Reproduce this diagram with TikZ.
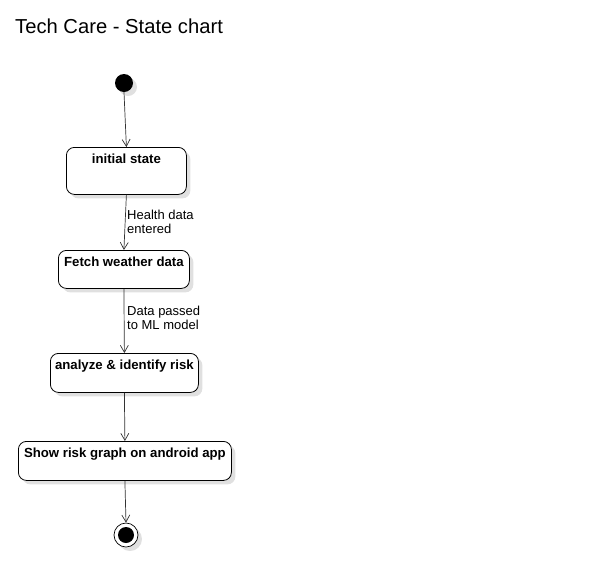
\documentclass[tikz,border=0pt]{standalone}
\usepackage{fontspec}
\setmainfont{Liberation Sans}
\usetikzlibrary{shadows,arrows.meta}
\begin{document}
\begin{tikzpicture}[x=1pt,y=-1pt,
  shd/.style={drop shadow={opacity=0.12,fill=black,shadow xshift=4pt,shadow yshift=-4pt}},
  state/.style={draw=black,fill=white,rounded corners=8pt,line width=0.8pt,shd},
  stxt/.style={font=\bfseries\fontsize{13.2}{15}\selectfont,anchor=north,inner sep=0pt},
  lbl/.style={font=\fontsize{13}{13.5}\selectfont,align=left,anchor=north west,inner sep=0pt},
  tr/.style={draw=black!80,line width=0.7pt,-{Straight Barb[length=7pt,width=8pt]}}]
\useasboundingbox (0,0) rectangle (609,587);
\node[anchor=west,inner sep=0pt,font=\fontsize{20.2}{24}\selectfont] (title) at (15,26) {Tech Care - State chart};
% initial
\node[circle,fill=black,minimum size=18pt,inner sep=0pt,shd] (init) at (124,83) {};
% states
\node[state,minimum width=120pt,minimum height=47pt,anchor=north west] (s1) at (66,147) {};
\node[stxt] at ([yshift=-6.5pt]s1.north) {initial state};
\node[state,minimum width=131pt,minimum height=38pt,anchor=north west] (s2) at (58,250) {};
\node[stxt] at ([yshift=-6.5pt]s2.north) {Fetch weather data};
\node[state,minimum width=148pt,minimum height=39pt,anchor=north west] (s3) at (50,353) {};
\node[stxt] at ([yshift=-6.5pt]s3.north) {analyze \& identify risk};
\node[state,minimum width=213pt,minimum height=39pt,anchor=north west] (s4) at (18,441) {};
\node[stxt] at ([yshift=-6.5pt]s4.north) {Show risk graph on android app};
% final
\node[circle,draw=black,fill=white,line width=0.7pt,minimum size=24pt,inner sep=0pt,shd] (fin) at (126,535) {};
\node[circle,fill=black,minimum size=16pt,inner sep=0pt] (finin) at (126,535) {};
% transitions
\draw[tr] (init.south) -- (s1.north);
\draw[tr] (s1.south) -- (s2.north);
\draw[tr] (s2.south) -- (s3.north);
\draw[tr] (s3.south) -- (s4.north);
\draw[tr] (s4.south) -- (fin.north);
\node[lbl] (l1) at (127,210) {Health data\\entered};
\node[lbl] (l2) at (127,306) {Data passed\\to ML model};
\end{tikzpicture}
\end{document}
